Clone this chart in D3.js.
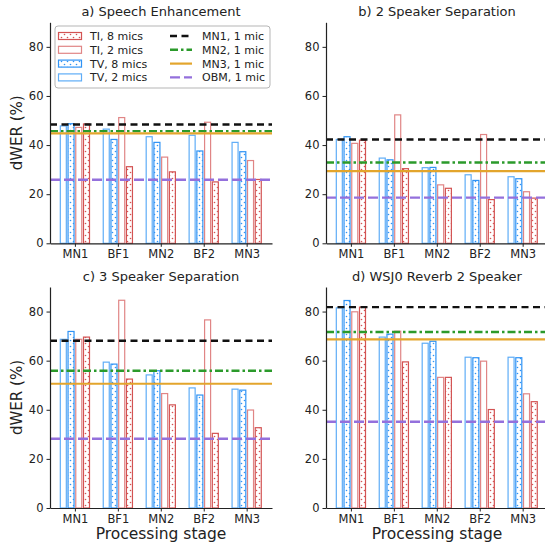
<!DOCTYPE html>
<html>
<head>
<meta charset="utf-8">
<script src="https://cdn.jsdelivr.net/npm/d3@7"></script>
<style>
  body { margin: 0; background: #fff; }
  svg { font-family: "DejaVu Sans", sans-serif; }
</style>
</head>
<body>
<svg id="canvas" width="545" height="544"></svg>
<script>
// Data
const stages = ['MN1', 'BF1', 'MN2', 'BF2', 'MN3'];
const yTicks = [0, 20, 40, 60, 80];

// a) Speech Enhancement
const aTV2 = [47.8, 46.5, 43.4, 44.0, 41.1];
const aTV8 = [48.7, 42.3, 41.1, 37.6, 37.3];
const aTI2 = [47.2, 51.2, 35.1, 49.3, 33.7];
const aTI8 = [48.6, 31.2, 29.1, 25.0, 26.0];
const aRef = [48.4, 45.7, 44.8, 25.9]; // MN1, MN2, MN3, OBM (1 mic)

// b) 2 Speaker Separation
const bTV2 = [42.3, 34.7, 30.8, 27.9, 27.1];
const bTV8 = [43.4, 34.0, 30.9, 25.6, 26.3];
const bTI2 = [40.7, 52.3, 23.8, 44.3, 21.0];
const bTI8 = [42.0, 30.4, 22.4, 17.8, 18.4];
const bRef = [42.3, 32.9, 29.4, 18.6];

// c) 3 Speaker Separation
const cTV2 = [68.7, 59.4, 54.2, 48.9, 48.4];
const cTV8 = [71.9, 58.6, 55.9, 46.0, 48.0];
const cTI2 = [68.7, 84.6, 46.6, 76.6, 39.9];
const cTI8 = [69.6, 52.5, 42.0, 30.4, 32.7];
const cRef = [68.1, 55.9, 50.6, 28.2];

// d) WSJ0 Reverb 2 Speaker
const dTV2 = [81.5, 69.6, 67.1, 61.4, 61.4];
const dTV8 = [84.5, 70.8, 67.9, 61.2, 61.2];
const dTI2 = [79.9, 72.0, 53.2, 59.8, 46.5];
const dTI8 = [81.8, 59.5, 53.2, 40.1, 43.3];
const dRef = [81.8, 71.7, 68.7, 35.1];

// Styles
const barSeries = [
  { key: 'TV2', label: 'TV, 2 mics', color: '#5fadf7', dots: false, off: -1.5 },
  { key: 'TV8', label: 'TV, 8 mics', color: '#2f93f5', dots: true, off: -0.5 },
  { key: 'TI2', label: 'TI, 2 mics', color: '#e08585', dots: false, off: 0.5 },
  { key: 'TI8', label: 'TI, 8 mics', color: '#d35353', dots: true, off: 1.5 }
];
const refLines = [
  { label: 'MN1, 1 mic', color: '#111', dash: '7,4.5', width: 2.4 },
  { label: 'MN2, 1 mic', color: '#2b9a2b', dash: '8,3,2.5,3', width: 2.4 },
  { label: 'MN3, 1 mic', color: '#e3a52c', dash: null, width: 2.2 },
  { label: 'OBM, 1 mic', color: '#9470dc', dash: '10,4', width: 2.4 }
];

const panels = [
  { title: 'a) Speech Enhancement', x0: 50, y0: 243.3, vals: [aTV2, aTV8, aTI2, aTI8], ref: aRef, ylabel: true, xlabel: false, legend: true },
  { title: 'b) 2 Speaker Separation', x0: 326, y0: 243.3, vals: [bTV2, bTV8, bTI2, bTI8], ref: bRef, ylabel: false, xlabel: false },
  { title: 'c) 3 Speaker Separation', x0: 50, y0: 508, vals: [cTV2, cTV8, cTI2, cTI8], ref: cRef, ylabel: true, xlabel: true },
  { title: 'd) WSJ0 Reverb 2 Speaker', x0: 326, y0: 508, vals: [dTV2, dTV8, dTI2, dTI8], ref: dRef, ylabel: false, xlabel: true }
];

const pw = 222;
const ph = 221;
const barStep = 0.18;
const barW = 0.14;

const svg = d3.select('#canvas');
const defs = svg.append('defs');

// dotted hatch patterns
barSeries.filter(s => s.dots).forEach(s => {
  const p = defs.append('pattern')
    .attr('id', 'dots-' + s.key)
    .attr('patternUnits', 'userSpaceOnUse')
    .attr('width', 6)
    .attr('height', 6);
  p.append('circle').attr('cx', 1.5).attr('cy', 1.5).attr('r', 0.8).attr('fill', s.color);
  p.append('circle').attr('cx', 4.5).attr('cy', 4.5).attr('r', 0.8).attr('fill', s.color);
});

const fillFor = s => s.dots ? `url(#dots-${s.key})` : 'none';

panels.forEach(pn => {
  const g = svg.append('g');
  const x = d3.scaleLinear().domain([-0.58, 4.59]).range([pn.x0, pn.x0 + pw]);
  const y = d3.scaleLinear().domain([0, 90]).range([pn.y0, pn.y0 - ph]);

  // bars
  barSeries.forEach((s, si) => {
    g.selectAll(null)
      .data(pn.vals[si])
      .enter()
      .append('rect')
      .attr('x', (d, i) => x(i + s.off * barStep - barW / 2))
      .attr('width', x(barW) - x(0))
      .attr('y', d => y(d))
      .attr('height', d => y(0) - y(d))
      .attr('fill', fillFor(s))
      .attr('stroke', s.color)
      .attr('stroke-width', 1.2);
  });

  // reference lines
  refLines.forEach((r, ri) => {
    g.append('line')
      .attr('x1', pn.x0)
      .attr('x2', pn.x0 + pw)
      .attr('y1', y(pn.ref[ri]))
      .attr('y2', y(pn.ref[ri]))
      .attr('stroke', r.color)
      .attr('stroke-width', r.width)
      .attr('stroke-dasharray', r.dash);
  });

  // axes
  const yAxis = g.append('g')
    .attr('transform', `translate(${pn.x0},0)`)
    .call(d3.axisLeft(y).tickValues(yTicks).tickSize(3.5).tickSizeOuter(0).tickPadding(3));
  const xAxis = g.append('g')
    .attr('transform', `translate(0,${pn.y0})`)
    .call(d3.axisBottom(x).tickValues([0, 1, 2, 3, 4]).tickFormat(i => stages[i]).tickSize(3.5).tickSizeOuter(0).tickPadding(3));
  [yAxis, xAxis].forEach(a => {
    a.selectAll('text').attr('font-size', 11.5).attr('fill', '#222').attr('font-family', 'DejaVu Sans');
    a.selectAll('line').attr('stroke', '#222').attr('stroke-width', 1);
    a.select('.domain').attr('stroke', '#222').attr('stroke-width', 1.2);
  });

  // title
  g.append('text')
    .attr('x', pn.x0 + pw / 2)
    .attr('y', pn.y0 - ph - 6)
    .attr('text-anchor', 'middle')
    .attr('font-size', 13)
    .attr('fill', '#222')
    .text(pn.title);

  if (pn.ylabel) {
    g.append('text')
      .attr('transform', `translate(22,${pn.y0 - ph / 2}) rotate(-90)`)
      .attr('text-anchor', 'middle')
      .attr('font-size', 15)
      .attr('fill', '#222')
      .text('dWER (%)');
  }
  if (pn.xlabel) {
    g.append('text')
      .attr('x', pn.x0 + pw / 2)
      .attr('y', pn.y0 + 31)
      .attr('text-anchor', 'middle')
      .attr('font-size', 15.5)
      .attr('fill', '#222')
      .text('Processing stage');
  }

  if (pn.legend) {
    const lg = g.append('g');
    lg.append('rect')
      .attr('x', 55).attr('y', 26).attr('width', 215).attr('height', 62)
      .attr('rx', 3)
      .attr('fill', 'rgba(255,255,255,0.85)')
      .attr('stroke', '#b5b5b5')
      .attr('stroke-width', 1);
    const leftOrder = [3, 2, 1, 0];
    leftOrder.forEach((si, row) => {
      const s = barSeries[si];
      const yy = 36 + row * 13.8;
      lg.append('rect')
        .attr('x', 58.5).attr('y', yy - 3.5).attr('width', 23).attr('height', 7)
        .attr('fill', fillFor(s))
        .attr('stroke', s.color)
        .attr('stroke-width', 1.2);
      lg.append('text')
        .attr('x', 90).attr('y', yy + 4)
        .attr('font-size', 11)
        .attr('fill', '#222')
        .text(s.label);
    });
    refLines.forEach((r, row) => {
      const yy = 36 + row * 13.8;
      lg.append('line')
        .attr('x1', 170).attr('x2', 192)
        .attr('y1', yy).attr('y2', yy)
        .attr('stroke', r.color)
        .attr('stroke-width', r.width)
        .attr('stroke-dasharray', r.dash);
      lg.append('text')
        .attr('x', 202).attr('y', yy + 4)
        .attr('font-size', 11)
        .attr('fill', '#222')
        .text(r.label);
    });
  }
});
</script>
</body>
</html>
